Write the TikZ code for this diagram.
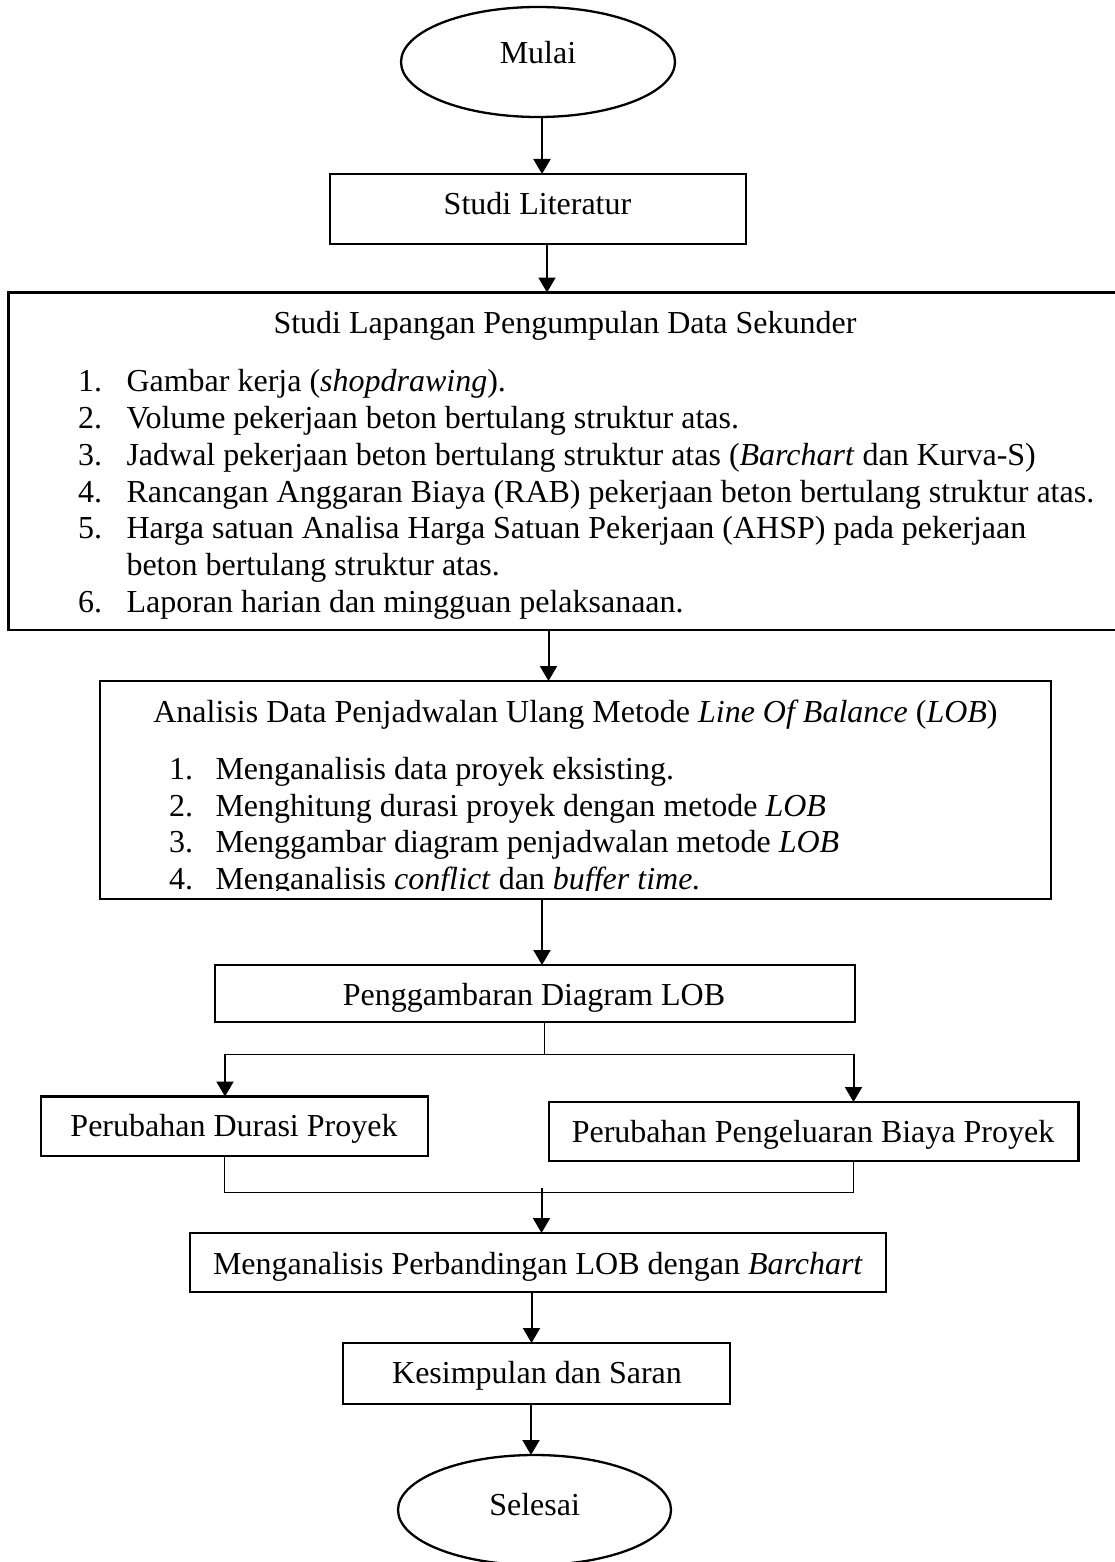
\documentclass[tikz,border=0pt]{standalone}
\usepackage{fontspec}
\setmainfont{Liberation Serif}
\usetikzlibrary{arrows.meta,shapes.geometric}
\begin{document}
\begin{tikzpicture}[x=1pt,y=-1pt,
  txt/.style={font=\fontsize{32}{37}\selectfont, inner sep=0pt, outer sep=0pt},
  boxnode/.style={draw, line width=2.3pt, rectangle, inner sep=0pt, outer sep=0pt},
  ovalnode/.style={draw, line width=2.3pt, ellipse, inner sep=0pt, outer sep=0pt, minimum width=274pt, minimum height=110pt},
  arr/.style={line width=2pt, -{Triangle[length=15pt,width=17pt]}},
  thinline/.style={line width=1pt}
]
\useasboundingbox (0,0) rectangle (1114,1562);

% shapes
\node[ovalnode] (mulai) at (538,62) {};
\node[boxnode, minimum width=416pt, minimum height=70pt] (lit) at (538,209) {};
\node[boxnode, minimum width=1112.5pt, minimum height=337.5pt] (sek) at (564.75,461.25) {};
\node[boxnode, minimum width=951pt, minimum height=218pt] (lob) at (575.5,790) {};
\node[boxnode, minimum width=640pt, minimum height=57pt] (gam) at (535,993.5) {};
\node[boxnode, minimum width=387pt, minimum height=59.5pt] (dur) at (234.5,1126.25) {};
\node[boxnode, minimum width=529.5pt, minimum height=59pt] (bia) at (813.75,1131.5) {};
\node[boxnode, minimum width=696pt, minimum height=59pt] (per) at (538,1262.5) {};
\node[boxnode, minimum width=387pt, minimum height=61pt] (kes) at (536.5,1373.5) {};
\node[ovalnode, minimum width=273pt] (selesai) at (534.5,1510) {};

% single-line labels
\node[txt, anchor=base] (tmulai) at (538,64) {Mulai};
\node[txt, anchor=base] (tlit) at (537.5,215) {Studi Literatur};
\node[txt, anchor=base] (tgam) at (534,1005) {Penggambaran Diagram LOB};
\node[txt, anchor=base] (tdur) at (234,1136.7) {Perubahan Durasi Proyek};
\node[txt, anchor=base] (tbia) at (813,1142) {Perubahan Pengeluaran Biaya Proyek};
\node[txt, anchor=base] (tper) at (538,1274) {Menganalisis Perbandingan LOB dengan \textit{Barchart}};
\node[txt, anchor=base] (tkes) at (537,1383) {Kesimpulan dan Saran};
\node[txt, anchor=base] (tsel) at (534.6,1515) {Selesai};

% box 1 text
\node[txt, anchor=base] (sektitle) at (565,333) {Studi Lapangan Pengumpulan Data Sekunder};
\node[txt, anchor=base west] (sn1) at (78,391) {1.};
\node[txt, anchor=base west] (st1) at (126.5,391) {Gambar kerja (\textit{shopdrawing}).};
\node[txt, anchor=base west] (sn2) at (78,428) {2.};
\node[txt, anchor=base west] (st2) at (126.5,428) {Volume pekerjaan beton bertulang struktur atas.};
\node[txt, anchor=base west] (sn3) at (78,465) {3.};
\node[txt, anchor=base west] (st3) at (126.5,465) {Jadwal pekerjaan beton bertulang struktur atas (\textit{Barchart} dan Kurva-S)};
\node[txt, anchor=base west] (sn4) at (78,502) {4.};
\node[txt, anchor=base west] (st4) at (126.5,502) {Rancangan Anggaran Biaya (RAB) pekerjaan beton bertulang struktur atas.};
\node[txt, anchor=base west] (sn5) at (78,538.5) {5.};
\node[txt, anchor=base west] (st5) at (126.5,538.5) {Harga satuan Analisa Harga Satuan Pekerjaan (AHSP) pada pekerjaan};
\node[txt, anchor=base west] (st5b) at (126.5,575) {beton bertulang struktur atas.};
\node[txt, anchor=base west] (sn6) at (78,612) {6.};
\node[txt, anchor=base west] (st6) at (126.5,612) {Laporan harian dan mingguan pelaksanaan.};

% box 2 text (last line clipped by the box)
\begin{scope}
\clip (100,681) rectangle (1051,890.5);
\node[txt, anchor=base] (lobtitle) at (575.5,722) {Analisis Data Penjadwalan Ulang Metode \textit{Line Of Balance} (\textit{LOB})};
\node[txt, anchor=base west] (ln1) at (169,779) {1.};
\node[txt, anchor=base west] (lt1) at (215.5,779) {Menganalisis data proyek eksisting.};
\node[txt, anchor=base west] (ln2) at (169,816) {2.};
\node[txt, anchor=base west] (lt2) at (215.5,816) {Menghitung durasi proyek dengan metode \textit{LOB}};
\node[txt, anchor=base west] (ln3) at (169,852.5) {3.};
\node[txt, anchor=base west] (lt3) at (215.5,852.5) {Menggambar diagram penjadwalan metode \textit{LOB}};
\node[txt, anchor=base west] (ln4) at (169,889.5) {4.};
\node[txt, anchor=base west] (lt4) at (215.5,889.5) {Menganalisis \textit{conflict} dan \textit{buffer time.}};
\end{scope}

% helper coordinates
\coordinate (x1) at (542,0);
\coordinate (x2) at (547,0);
\coordinate (x3) at (548.5,0);
\coordinate (x4) at (542,0);
\coordinate (split) at (544,1054);
\coordinate (splitL) at (225,1054);
\coordinate (splitR) at (853.5,1054);
\coordinate (joinL) at (224.5,1192);
\coordinate (joinR) at (853,1192);
\coordinate (joinM) at (541.5,1188);
\coordinate (x7) at (531.5,0);
\coordinate (x8) at (531,0);

% connectors
\draw[arr] (x1 |- mulai.south) -- (x1 |- lit.north);
\draw[arr] (x2 |- lit.south) -- (x2 |- sek.north);
\draw[arr] (x3 |- sek.south) -- (x3 |- lob.north);
\draw[arr] (x4 |- lob.south) -- (x4 |- gam.north);
\draw[thinline] (split |- gam.south) -- (split);
\draw[thinline] (splitL) -- (splitR);
\draw[arr] (splitL) -- (splitL |- dur.north);
\draw[arr] (splitR) -- (splitR |- bia.north);
\draw[thinline] (joinL |- dur.south) -- (joinL) -- (joinR) -- (joinR |- bia.south);
\draw[arr] (joinM) -- (joinM |- per.north);
\draw[arr] (x7 |- per.south) -- (x7 |- kes.north);
\draw[arr] (x8 |- kes.south) -- (x8 |- selesai.north);
\end{tikzpicture}
\end{document}
